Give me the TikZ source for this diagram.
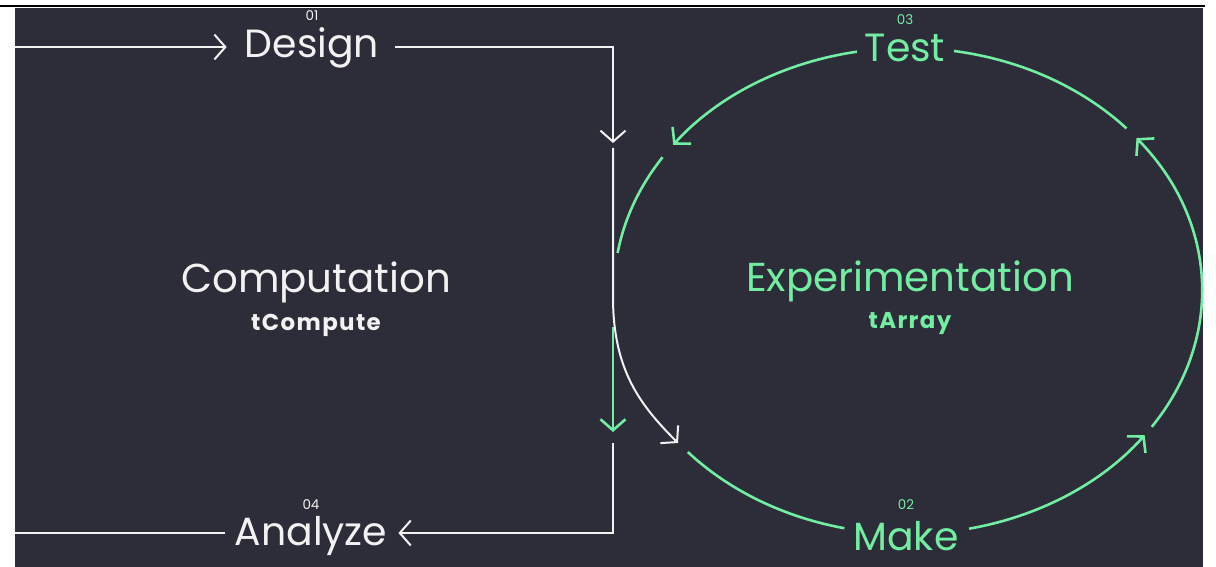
\documentclass[tikz,border=0pt]{standalone}
\usepackage{fontspec}
\setmainfont{Poppins}
\usetikzlibrary{arrows.meta, positioning, calc}

\definecolor{panel}{HTML}{2D2D3A}
\definecolor{mint}{HTML}{72EDA2}
\definecolor{chalk}{HTML}{F2F2F2}

\begin{document}
\begin{tikzpicture}[
    x=1bp, y=-1bp,
    stage/.style={inner sep=0pt, anchor=base, font=\fontsize{39.5}{40}\selectfont},
    stepnum/.style={inner sep=0pt, font=\fontsize{13.5}{14}\selectfont},
    bigtitle/.style={inner sep=0pt, anchor=base, font=\fontsize{40.5}{41}\selectfont},
    tool/.style={inner sep=0pt, font=\fontsize{23}{23}\selectfont\bfseries\addfontfeature{LetterSpace=6}},
    chev/.style={-{Straight Barb[length=11bp, width=25bp]}},
    wline/.style={draw=chalk, line width=2bp},
    gline/.style={draw=mint, line width=2.6bp},
    loopr/.style={x radius=294bp, y radius=243bp}
]

% 0. Page and panel
\useasboundingbox (0,0) rectangle (1216,567);
\fill[panel] (15,8) rectangle (1203,567);
\draw[black, line width=2bp] (0,6) -- (1205,6);

% 1. Stage names
\node[stage, text=chalk] (design) at (312,58) {Design};
\node[stage, text=chalk] (analyze) at (311,545) {Analyze};
\node[stage, text=mint] (test) at (905,62) {Test};
\node[stage, text=mint] (make) at (906,550) {Make};

% step numbers sit on a line above each name's baseline
\node[stepnum, text=chalk, above=37bp of design.base] (n1) {01};
\node[stepnum, text=mint, above=37bp of test.base] (n3) {03};
\node[stepnum, text=mint, above=40bp of make.base] (n2) {02};
\node[stepnum, text=chalk, above=35bp of analyze.base] (n4) {04};

% 2. Two halves
\node[bigtitle, text=chalk] (comp) at (316,293) {Computation};
\node[tool, text=chalk, below=10bp of comp] (tcomp) {tCompute};
\node[bigtitle, text=mint] (expt) at (910,292) {Experimentation};
\node[tool, text=mint, below=10bp of expt] (tarr) {tArray};

% 3. Turning points
\coordinate (inL) at (15,47);
\coordinate (bend) at (613,47);
\coordinate (gate) at (613,143);
\coordinate (wtop) at (613,148);
\coordinate (wbend) at (613,297);
\coordinate (tomake) at (678,443);
\coordinate (gtop) at (613,327);
\coordinate (gbot) at (613,432);
\coordinate (btop) at (613,443);
\coordinate (bcorner) at (613,533);
\coordinate (outL) at (15,533);
\coordinate (loop) at (908,291);

% 4. Computation side (white)
\draw[wline, chev] (inL) -- ($(inL -| design.west)+(-18,0)$);
\draw[wline, chev] ($(inL -| design.east)+(16,0)$) -- (bend) -- (gate);
\draw[wline, chev] (wtop) -- (wbend) .. controls +(0,73) and +(-38,-38) .. (tomake);
\draw[gline, chev] (gtop) -- (gbot);
\draw[wline, chev] (btop) -- (bcorner) -- ($(bcorner -| analyze.east)+(11,0)$);
\draw[wline] ($(bcorner -| analyze.west)+(-10,0)$) -- (outL);

% 5. Experiment loop (mint)
\draw[gline] ($(loop)+(42:294bp and 243bp)$) arc[loopr, start angle=42, end angle=81];
\draw[gline, chev] ($(loop)+(100:294bp and 243bp)$) arc[loopr, start angle=100, end angle=143];
\draw[gline] ($(loop)+(146.6:294bp and 243bp)$) arc[loopr, start angle=146.6, end angle=171];
\draw[gline] ($(loop)+(221.5:294bp and 243bp)$) arc[loopr, start angle=221.5, end angle=257.5];
\draw[gline, chev] ($(loop)+(-78:294bp and 243bp)$) arc[loopr, start angle=-78, end angle=-36.4];
\draw[gline, chev] ($(loop)+(-34:294bp and 243bp)$) arc[loopr, start angle=-34, end angle=39];

\end{tikzpicture}
\end{document}
